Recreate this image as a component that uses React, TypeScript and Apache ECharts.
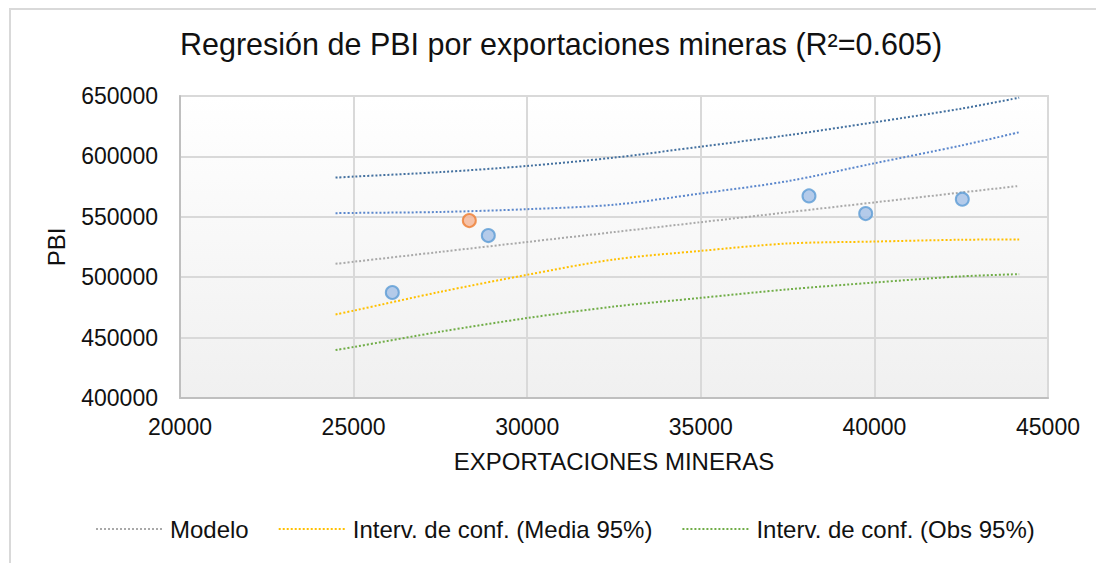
import React, { useEffect, useRef } from 'react';
import * as echarts from 'echarts';

// Observed points
const obsX = [26115, 28880, 38116, 39749, 42532];
const obsY = [487330, 534470, 567300, 552670, 564570];
const highlightX = [28333];
const highlightY = [546880];

// Regression curves
const lineX = [24480, 25000, 27500, 30000, 32500, 35000, 37500, 40000, 42500, 44170];
const modelY = [511070, 512770, 520960, 529150, 537340, 545530, 553720, 561910, 570100, 575570];
const mediaUpper = [553000, 553200, 554000, 556300, 560000, 569300, 579500, 594300, 609000, 620000];
const mediaLower = [469150, 472300, 487900, 502000, 514700, 521800, 527900, 529500, 531000, 531200];
const obsUpper = [582440, 583300, 587000, 592100, 599000, 608100, 617500, 628250, 639500, 648600];
const obsLower = [439700, 442200, 454900, 466200, 475700, 482900, 489900, 495600, 500700, 502500];

const title = 'Regresión de PBI por exportaciones mineras (R²=0.605)';
const xName = 'EXPORTACIONES MINERAS';
const yName = 'PBI';
const legendNames = ['Modelo', 'Interv. de conf. (Media 95%)', 'Interv. de conf. (Obs 95%)'];

const FONT = '"Liberation Sans", Arial, sans-serif';

const pairs = (xs: number[], ys: number[]) => xs.map((x, i) => [x, ys[i]]);

const dotLine = (name: string, ys: number[], color: string) => ({
  name,
  type: 'line',
  data: pairs(lineX, ys),
  symbol: 'none',
  showSymbol: false,
  smooth: 0.3,
  lineStyle: { color, width: 2, type: [2, 2] },
  itemStyle: { color },
  z: 2,
});

export default function App() {
  const ref = useRef<HTMLDivElement>(null);
  useEffect(() => {
    const chart = echarts.init(ref.current!, null, { renderer: 'svg' });
    chart.setOption({
      animation: false,
      backgroundColor: '#ffffff',
      textStyle: { fontFamily: FONT },
      title: {
        text: title,
        left: 175,
        top: 23,
        textStyle: { fontSize: 30.5, fontWeight: 'normal', color: '#111', fontFamily: FONT },
      },
      graphic: [
        {
          type: 'rect',
          shape: { x: 10, y: 9, width: 1200, height: 700 },
          style: { fill: 'none', stroke: '#d9d9d9', lineWidth: 2 },
          silent: true,
          z: -10,
        },
      ],
      grid: {
        left: 180,
        top: 96,
        right: 48,
        bottom: 165,
        show: true,
        backgroundColor: new echarts.graphic.LinearGradient(0, 0, 0, 1, [
          { offset: 0, color: '#ffffff' },
          { offset: 1, color: '#f0f0f0' },
        ]),
        borderColor: '#d9d9d9',
        borderWidth: 2,
        containLabel: false,
        outerBoundsMode: 'none',
      },
      legend: {
        data: legendNames,
        left: 90,
        top: 512,
        itemWidth: 66,
        itemHeight: 12,
        itemGap: 29,
        itemStyle: { opacity: 0 },
        textStyle: { fontSize: 24, color: '#111', fontFamily: FONT, padding: [0, 0, 0, 3] },
      },
      xAxis: {
        type: 'value',
        min: 20000,
        max: 45000,
        interval: 5000,
        name: xName,
        nameLocation: 'middle',
        nameGap: 51,
        nameTextStyle: { fontSize: 24, color: '#111', fontFamily: FONT },
        axisLine: { show: true, onZero: false, lineStyle: { color: '#bfbfbf', width: 2 } },
        axisTick: { show: false },
        splitLine: { show: true, lineStyle: { color: '#d9d9d9', width: 2 } },
        axisLabel: { fontSize: 23, color: '#111', margin: 17, fontFamily: FONT, formatter: (v: number) => String(v) },
      },
      yAxis: {
        type: 'value',
        min: 400000,
        max: 650000,
        interval: 50000,
        name: yName,
        nameLocation: 'middle',
        nameGap: 112,
        nameTextStyle: { fontSize: 24, color: '#111', fontFamily: FONT },
        axisLine: { show: true, onZero: false, lineStyle: { color: '#bfbfbf', width: 2 } },
        axisTick: { show: false },
        splitLine: { show: true, lineStyle: { color: '#d9d9d9', width: 2 } },
        axisLabel: { fontSize: 23, color: '#111', margin: 22, fontFamily: FONT, formatter: (v: number) => String(v) },
      },
      series: [
        dotLine(legendNames[0], modelY, '#a9a9a9'),
        dotLine(legendNames[1], mediaLower, '#ffc000'),
        dotLine(legendNames[2], obsLower, '#70ad47'),
        dotLine('Media 95% sup.', mediaUpper, '#5b87cc'),
        dotLine('Obs 95% sup.', obsUpper, '#43709f'),
        {
          name: 'Observaciones',
          type: 'scatter',
          data: pairs(obsX, obsY),
          symbol: 'circle',
          symbolSize: 13,
          itemStyle: { color: '#a2bfe6', borderColor: '#5b9bd5', borderWidth: 2 },
          z: 5,
        },
        {
          name: 'Predicción',
          type: 'scatter',
          data: pairs(highlightX, highlightY),
          symbol: 'circle',
          symbolSize: 13,
          itemStyle: { color: '#f4b495', borderColor: '#ed7d31', borderWidth: 2 },
          z: 5,
        },
      ],
    });
    return () => chart.dispose();
  }, []);
  return (
    <div
      ref={ref}
      style={{ position: 'fixed', left: 0, top: 0, width: 1096, height: 563, background: '#fff' }}
    />
  );
}
